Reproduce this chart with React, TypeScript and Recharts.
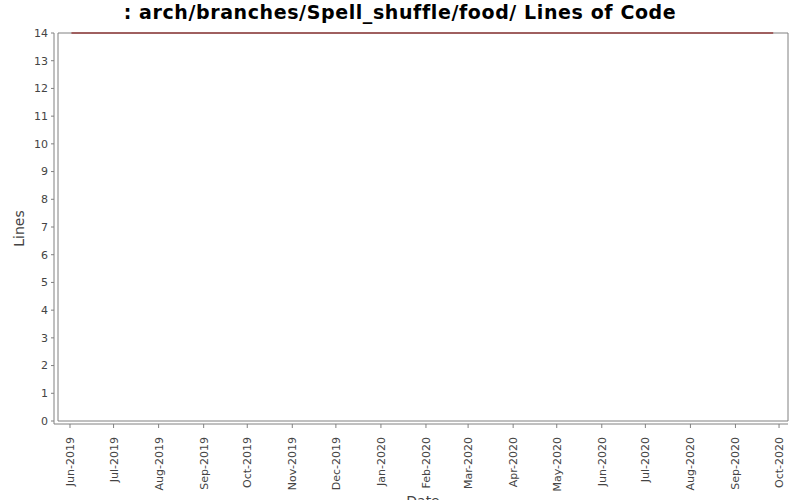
import { LineChart, Line, XAxis, YAxis, ReferenceArea } from "recharts";

// commit history: date of each sample and the line count at that date
const commitDates = ["2019-06-02", "2020-09-27"];
const linesOfCode = [14, 14];

// month ticks along the time axis
const monthTicks = [
  "2019-06-01", "2019-07-01", "2019-08-01", "2019-09-01", "2019-10-01",
  "2019-11-01", "2019-12-01", "2020-01-01", "2020-02-01", "2020-03-01",
  "2020-04-01", "2020-05-01", "2020-06-01", "2020-07-01", "2020-08-01",
  "2020-09-01", "2020-10-01",
];
const lineTicks = [0, 1, 2, 3, 4, 5, 6, 7, 8, 9, 10, 11, 12, 13, 14];
const MONTHS = ["Jan", "Feb", "Mar", "Apr", "May", "Jun", "Jul", "Aug", "Sep", "Oct", "Nov", "Dec"];

const toTime = (s: string) => new Date(s).getTime();
const xDomain = [toTime("2019-05-23T18:00:00Z"), toTime("2020-10-07T04:00:00Z")];

const data = commitDates.map((d, i) => ({ date: toTime(d), loc: linesOfCode[i] }));

const FONT = '"DejaVu Sans", Verdana, sans-serif';
const AXIS_GRAY = "#808080";
const TEXT_GRAY = "#444444";

const formatMonth = (t: number) => {
  const d = new Date(t);
  return `${MONTHS[d.getUTCMonth()]}-${d.getUTCFullYear()}`;
};

const DateTick = (props: any) => {
  const { x, y, payload } = props;
  return (
    <g transform={`translate(${x},${y})`}>
      <text
        transform="rotate(-90)"
        x={-3}
        dy="0.36em"
        textAnchor="end"
        fill={TEXT_GRAY}
        fontSize={11}
        fontFamily={FONT}
      >
        {formatMonth(payload.value)}
      </text>
    </g>
  );
};

export default function App() {
  return (
    <div style={{ position: "absolute", left: 0, top: 0, width: 800, height: 500, background: "#fff" }}>
      <div
        style={{
          position: "absolute",
          top: 1,
          left: 0,
          width: 800,
          textAlign: "center",
          fontFamily: FONT,
          fontWeight: "bold",
          fontSize: 19,
          letterSpacing: 0.6,
          color: "#000",
        }}
      >
        : arch/branches/Spell_shuffle/food/ Lines of Code
      </div>
      <LineChart
        width={800}
        height={500}
        data={data}
        margin={{ top: 33, right: 12, left: 0, bottom: 0 }}
      >
        <XAxis
          dataKey="date"
          type="number"
          scale="time"
          domain={xDomain}
          ticks={monthTicks.map(toTime)}
          interval={0}
          allowDataOverflow
          padding={{ left: 4 }}
          height={76}
          tickSize={4}
          tickMargin={6}
          stroke={AXIS_GRAY}
          tick={<DateTick />}
          label={{
            content: (p: any) => (
              <text
                x={p.viewBox.x + p.viewBox.width / 2 + 2}
                y={506}
                textAnchor="middle"
                fill={TEXT_GRAY}
                fontSize={14}
                fontFamily={FONT}
              >
                Date
              </text>
            ),
          }}
        />
        <YAxis
          type="number"
          domain={[0, 14]}
          ticks={lineTicks}
          interval={0}
          padding={{ bottom: 3 }}
          width={54}
          tickSize={3}
          tickMargin={3}
          stroke={AXIS_GRAY}
          tick={{ fill: TEXT_GRAY, fontSize: 11, fontFamily: FONT }}
          label={{
            content: (p: any) => (
              <text
                transform={`translate(24, ${p.viewBox.y + p.viewBox.height / 2}) rotate(-90)`}
                textAnchor="middle"
                fill={TEXT_GRAY}
                fontSize={14}
                fontFamily={FONT}
              >
                Lines
              </text>
            ),
          }}
        />
        <ReferenceArea
          x1={xDomain[0]}
          x2={xDomain[1]}
          y1={0}
          y2={14}
          fill="none"
          fillOpacity={0}
          stroke={AXIS_GRAY}
          strokeWidth={1}
          ifOverflow="visible"
        />
        <Line
          type="linear"
          dataKey="loc"
          stroke="#800000"
          strokeWidth={1}
          dot={false}
          isAnimationActive={false}
        />
      </LineChart>
    </div>
  );
}
